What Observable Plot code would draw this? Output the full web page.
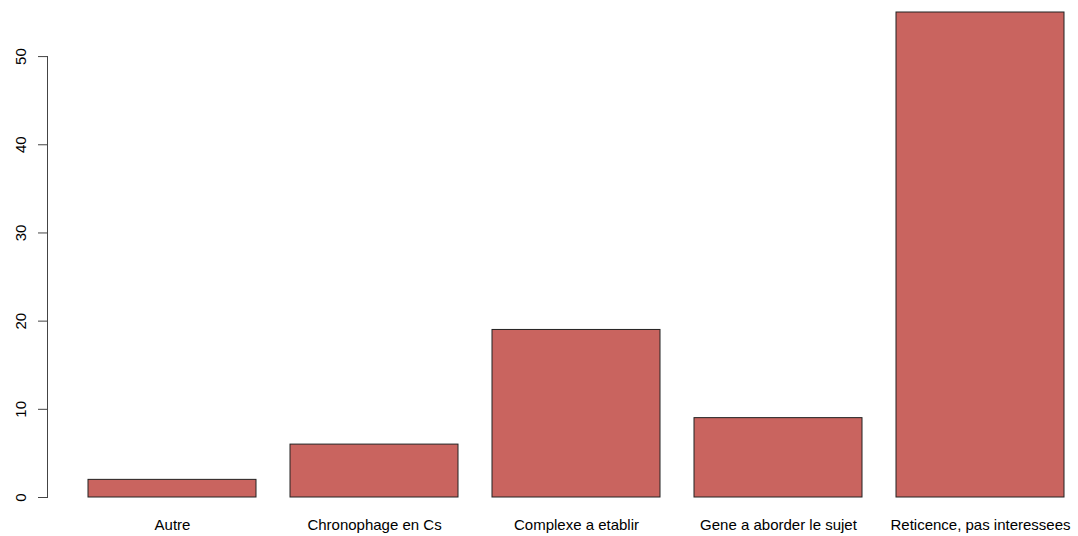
<!DOCTYPE html>
<html>
<head>
<meta charset="utf-8">
<script src="https://cdn.jsdelivr.net/npm/d3@7"></script>
<script src="https://cdn.jsdelivr.net/npm/@observablehq/plot@0.6"></script>
<style>
  html, body { margin: 0; padding: 0; background: #fff; }
  svg { display: block; }
</style>
</head>
<body>
<div id="chart"></div>
<script>
const categories = ["Autre", "Chronophage en Cs", "Complexe a etablir", "Gene a aborder le sujet", "Reticence, pas interessees"];
const counts = [2, 6, 19, 9, 55];
const yTicks = [0, 10, 20, 30, 40, 50];

const data = categories.map((c, i) => ({category: c, count: counts[i]}));

const W = 1078, H = 536;
const plot = Plot.plot({
  width: W,
  height: H,
  marginLeft: 48,
  marginRight: 13,
  marginTop: 12,
  marginBottom: 39,
  style: {fontFamily: "'Liberation Sans', Arial, Helvetica, sans-serif", fontSize: "15px", color: "#000", background: "#fff"},
  x: {domain: categories, range: [87, 1065], paddingInner: 1/6, paddingOuter: 0, align: 0.5},
  y: {domain: [0, 55], range: [497, 12]},
  marks: [
    Plot.barY(data, {x: "category", y: "count", fill: "#c9645f", stroke: "#222", strokeWidth: 1}),
    Plot.axisY(yTicks, {tickSize: 10, tickPadding: 13, tickRotate: -90, stroke: "#444", fontSize: 15, label: null}),
    Plot.axisX({tickSize: 0, tickPadding: 22, fontSize: 15, label: null})
  ]
});

// y-axis line spanning the tick range, positioned with the library's y scale
const ys = plot.scale("y");
const svg = d3.select(plot);
svg.append("line")
  .attr("x1", 47.5).attr("x2", 47.5)
  .attr("y1", ys.apply(yTicks[0])).attr("y2", ys.apply(yTicks[yTicks.length - 1]))
  .attr("stroke", "#444").attr("stroke-width", 1);

document.getElementById("chart").appendChild(plot);
</script>
</body>
</html>
